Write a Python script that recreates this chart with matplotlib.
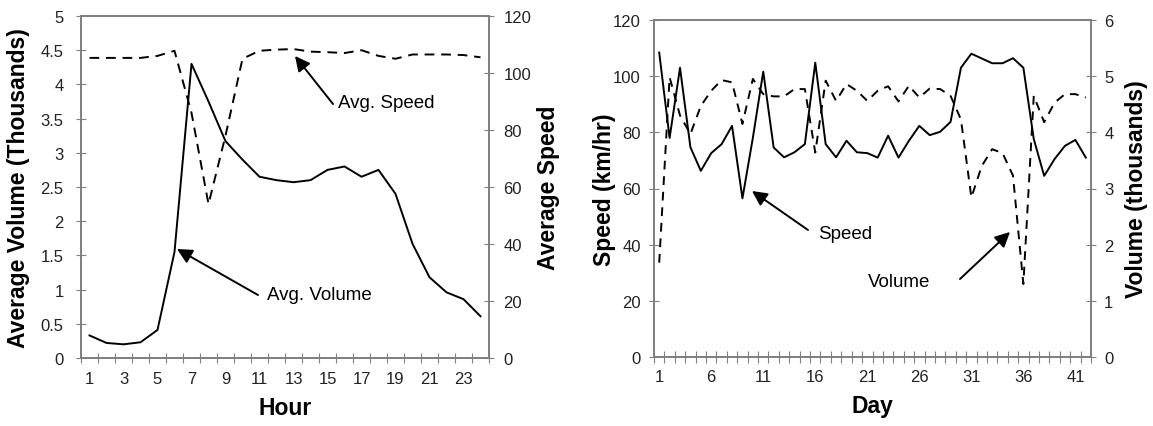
import matplotlib
matplotlib.use("Agg")
import matplotlib.pyplot as plt
from matplotlib.ticker import FixedLocator, FixedFormatter

plt.rcParams['font.family'] = ['Liberation Sans', 'DejaVu Sans']

# ---- Left chart data (hourly) ----
hours = list(range(1, 25))
avg_volume = [0.33, 0.22, 0.20, 0.23, 0.41, 1.55, 4.30, 3.75, 3.17, 2.90,
              2.65, 2.60, 2.57, 2.60, 2.75, 2.80, 2.65, 2.75, 2.40, 1.67,
              1.18, 0.96, 0.86, 0.61]
avg_speed = [105.3, 105.3, 105.3, 105.3, 106.0, 107.8, 86.0, 54.0, 78.0, 105.0,
             107.8, 108.2, 108.4, 107.5, 107.3, 107.0, 108.0, 106.0, 105.0, 106.5,
             106.5, 106.5, 106.3, 105.5]
hour_labels = [str(h) for h in range(1, 25, 2)]
vol_ticks = ['0', '0.5', '1', '1.5', '2', '2.5', '3', '3.5', '4', '4.5', '5']

# ---- Right chart data (daily) ----
days = list(range(1, 43))
speed = [108.4, 78.0, 103.0, 74.7, 66.3, 72.6, 75.8, 82.3, 56.5, 78.0,
         101.6, 74.6, 71.1, 72.9, 75.8, 104.8, 75.8, 71.1, 77.0, 72.9,
         72.6, 71.0, 78.8, 71.0, 77.0, 82.3, 79.0, 80.2, 83.7, 103.0,
         108.0, 106.3, 104.6, 104.6, 106.4, 103.0, 77.6, 64.5, 70.5, 75.2,
         77.3, 71.0]
volume = [1.68, 4.98, 4.30, 3.97, 4.47, 4.74, 4.93, 4.89, 4.15, 4.95,
          4.68, 4.64, 4.64, 4.77, 4.77, 3.64, 4.92, 4.56, 4.86, 4.74,
          4.56, 4.74, 4.82, 4.55, 4.83, 4.62, 4.78, 4.77, 4.65, 4.23,
          2.84, 3.40, 3.70, 3.63, 3.23, 1.30, 4.65, 4.18, 4.53, 4.68,
          4.68, 4.62]
day_labels = [str(d) for d in range(1, 43, 5)]

W, H = 1153, 427
fig = plt.figure(figsize=(W / 100, H / 100), dpi=100)

FRAME = '#808080'
TICKFS = 12
LABFS = 16.5
NOTEFS = 13.5


def px(x0, y0, x1, y1):
    return [x0 / W, 1 - y1 / H, (x1 - x0) / W, (y1 - y0) / H]


def style_axes(ax, twin):
    for a in (ax, twin):
        for s in a.spines.values():
            s.set_color(FRAME)
            s.set_linewidth(1.3)
    ax.tick_params(axis='both', which='both', colors=FRAME, labelcolor='#222222',
                   labelsize=TICKFS, direction='inout', length=7, width=0.8)
    twin.tick_params(axis='y', colors=FRAME, labelcolor='#222222',
                     labelsize=TICKFS, direction='inout', length=7, width=0.8)


# ---------- Left chart ----------
axL = fig.add_axes(px(81, 17, 489, 359))
axL2 = axL.twinx()
axL.plot(hours, avg_volume, color='black', lw=1.4, solid_joinstyle='round')
axL2.plot(hours, avg_speed, color='black', lw=1.4, linestyle=(0, (5, 3.5)))
axL.set_xlim(0.5, 24.5)
axL.set_ylim(0, 5)
axL2.set_ylim(0, 120)
axL.set_yticks([i * 0.5 for i in range(11)])
axL.set_yticklabels(vol_ticks)
axL2.set_yticks(range(0, 121, 20))
axL.xaxis.set_major_locator(FixedLocator(list(range(1, 25, 2))))
axL.xaxis.set_major_formatter(FixedFormatter(hour_labels))
axL.xaxis.set_minor_locator(FixedLocator([h + 0.5 for h in range(0, 25)]))
style_axes(axL, axL2)
axL.tick_params(axis='x', which='major', length=0, pad=9)
axL.tick_params(axis='y', pad=9)
axL2.tick_params(axis='y', pad=7)
axL.set_ylabel('Average Volume (Thousands)', fontsize=LABFS, fontweight='bold', va='center')
axL.yaxis.set_label_coords(-0.154, 0.5)
axL2.set_ylabel('Average Speed', fontsize=LABFS, fontweight='bold', va='center')
axL2.yaxis.set_label_coords(1.147, 0.5)
axL.set_xlabel('Hour', fontsize=LABFS, fontweight='bold', va='center')
axL.xaxis.set_label_coords(0.5, -0.146)

# ---------- Right chart ----------
axR = fig.add_axes(px(654, 21, 1091, 358))
axR2 = axR.twinx()
axR.plot(days, speed, color='black', lw=1.4)
axR2.plot(days, volume, color='black', lw=1.4, linestyle=(0, (4.5, 3.5)))
axR.set_xlim(0.5, 42.5)
axR.set_ylim(0, 120)
axR2.set_ylim(0, 6)
axR.set_yticks(range(0, 121, 20))
axR2.set_yticks(range(0, 7))
axR.xaxis.set_major_locator(FixedLocator(list(range(1, 43, 5))))
axR.xaxis.set_major_formatter(FixedFormatter(day_labels))
axR.xaxis.set_minor_locator(FixedLocator([d + 0.5 for d in range(0, 43)]))
style_axes(axR, axR2)
axR.tick_params(axis='x', which='major', length=0, pad=9)
axR.tick_params(axis='x', which='minor', length=9)
axR.tick_params(axis='y', pad=6)
axR2.tick_params(axis='y', pad=6)
axR.set_ylabel('Speed (km/hr)', fontsize=LABFS, fontweight='bold', va='center')
axR.yaxis.set_label_coords(-0.114, 0.5)
axR2.set_ylabel('Volume (thousands)', fontsize=LABFS, fontweight='bold', va='center')
axR2.yaxis.set_label_coords(1.105, 0.5)
axR.set_xlabel('Day', fontsize=LABFS, fontweight='bold', va='center')
axR.xaxis.set_label_coords(0.5, -0.145)


# ---------- Annotations (figure pixel coords) ----------
def arrow(xy_tip, xy_tail):
    fig.add_artist(plt.Annotation(
        '', xy=(xy_tip[0] / W, 1 - xy_tip[1] / H), xycoords='figure fraction',
        xytext=(xy_tail[0] / W, 1 - xy_tail[1] / H), textcoords='figure fraction',
        arrowprops=dict(arrowstyle='-|>,head_length=0.9,head_width=0.45',
                        color='black', lw=1.4, shrinkA=0, shrinkB=0)))


arrow((295, 57), (333, 105))
fig.text(338 / W, 1 - 103 / H, 'Avg. Speed', fontsize=NOTEFS, va='center', ha='left')
arrow((177, 250), (258, 296))
fig.text(267 / W, 1 - 296 / H, 'Avg. Volume', fontsize=NOTEFS, va='center', ha='left')
arrow((752, 192), (808, 231))
fig.text(818 / W, 1 - 235 / H, 'Speed', fontsize=NOTEFS, va='center', ha='left')
arrow((1010, 233), (960, 280))
fig.text(868 / W, 1 - 283 / H, 'Volume', fontsize=NOTEFS, va='center', ha='left')

fig.savefig('out.png', dpi=100)
